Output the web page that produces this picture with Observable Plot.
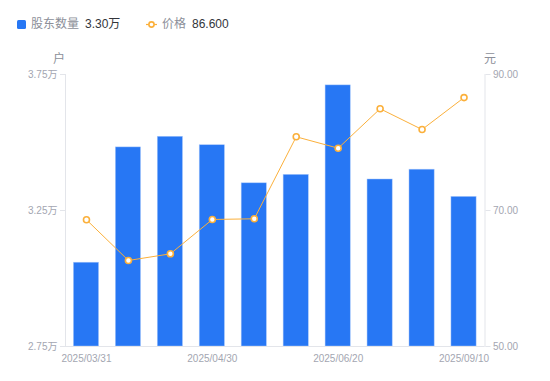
<!DOCTYPE html>
<html><head><meta charset="utf-8">
<script src="https://cdn.jsdelivr.net/npm/d3@7"></script>
<script src="https://cdn.jsdelivr.net/npm/@observablehq/plot@0.6"></script>
<style>
body{margin:0;background:#fff;font-family:"Liberation Sans","Noto Sans CJK SC",sans-serif;}
#wrap{position:relative;width:550px;height:381px;overflow:hidden;}
#wrap svg.plotsvg{position:absolute;left:0;top:0;}
.lg{position:absolute;top:16px;height:17px;line-height:17px;font-size:12px;white-space:nowrap;}
.lg .n{color:#8c8f99;}
.lg .v{color:#33353b;margin-left:6px;}
.unit{position:absolute;top:49px;font-size:12px;color:#8c8f99;}
</style></head><body>
<div id="wrap"></div>
<script>
const dates = ["2025/03/31","2025/04/10","2025/04/18","2025/04/30","2025/05/20","2025/06/10","2025/06/20","2025/07/10","2025/08/20","2025/09/10"];
const holders = [3.058, 3.482, 3.521, 3.490, 3.350, 3.381, 3.710, 3.364, 3.400, 3.300];
const prices = [68.63, 62.65, 63.63, 68.68, 68.78, 80.84, 79.16, 84.96, 81.91, 86.60];
const leftTicks = [2.75, 3.25, 3.75];
const rightTicks = [50, 70, 90];
const xTickLabels = ["2025/03/31","2025/04/30","2025/06/20","2025/09/10"];
const seriesNames = ["股东数量", "价格"];
const units = ["户", "元"];

const blue = "#2777f4", orange = "#fbb03b", axisColor = "#e3e5ea", textColor = "#a3a6b1";
const toY = p => 2.75 + (p - 50) / 40;
const data = dates.map((d, i) => ({date: d, holders: holders[i], price: prices[i], py: toY(prices[i])}));

const wrap = document.getElementById("wrap");
const chart = Plot.plot({
  width: 550, height: 381,
  marginTop: 74, marginBottom: 35, marginLeft: 65, marginRight: 65.5,
  style: {fontFamily: '"Liberation Sans","Noto Sans CJK SC",sans-serif', fontSize: "10px", background: "transparent"},
  x: {type: "band", domain: dates, paddingInner: 0.4, paddingOuter: 0.2, round: false, axis: null},
  y: {domain: [2.75, 3.75], axis: null},
  marks: [
    Plot.frame({anchor: "left", stroke: axisColor}),
    Plot.frame({anchor: "right", stroke: axisColor}),
    Plot.axisY(leftTicks, {anchor: "left", tickFormat: d => d.toFixed(2) + "万", tickSize: 5, tickPadding: 3, stroke: axisColor, fill: textColor, label: null}),
    Plot.axisY(rightTicks.map(toY), {anchor: "right", tickFormat: (d, i) => rightTicks[i].toFixed(2), tickSize: 5, tickPadding: 3, stroke: axisColor, fill: textColor, label: null}),
    Plot.axisX(xTickLabels, {anchor: "bottom", tickSize: 0, tickPadding: 8, fill: textColor, label: null}),
    Plot.barY(data, {x: "date", y1: 2.75, y2: "holders", fill: blue, stroke: "#a9c8fb", strokeWidth: 0.6, strokeOpacity: 0.8}),
    Plot.ruleY([2.75], {stroke: axisColor}),
    Plot.line(data, {x: "date", y: "py", stroke: orange, strokeWidth: 1}),
    Plot.dot(data, {x: "date", y: "py", r: 3, fill: "#fff", stroke: orange, strokeWidth: 1.6})
  ]
});
chart.classList.add("plotsvg");
wrap.appendChild(chart);

function addLegend(left, iconHtml, name, value) {
  const el = document.createElement("div");
  el.className = "lg";
  el.style.left = left + "px";
  el.innerHTML = iconHtml + '<span class="n">' + name + '</span><span class="v">' + value + '</span>';
  wrap.appendChild(el);
}
addLegend(17, '<span style="display:inline-block;width:9px;height:9px;background:' + blue + ';border-radius:1.5px;vertical-align:-1px;margin-right:5px"></span>', seriesNames[0], holders[holders.length - 1].toFixed(2) + "万");
addLegend(146, '<svg width="11" height="9" style="vertical-align:-1px;margin-right:5px"><line x1="0" y1="4.5" x2="11" y2="4.5" stroke="' + orange + '" stroke-width="1.2"/><circle cx="5.5" cy="4.5" r="2.6" fill="#fff" stroke="' + orange + '" stroke-width="1.6"/></svg>', seriesNames[1], prices[prices.length - 1].toFixed(3));

const u1 = document.createElement("div"); u1.className = "unit"; u1.style.left = "53px"; u1.textContent = units[0]; wrap.appendChild(u1);
const u2 = document.createElement("div"); u2.className = "unit"; u2.style.left = "484px"; u2.textContent = units[1]; wrap.appendChild(u2);
</script>
</body></html>
